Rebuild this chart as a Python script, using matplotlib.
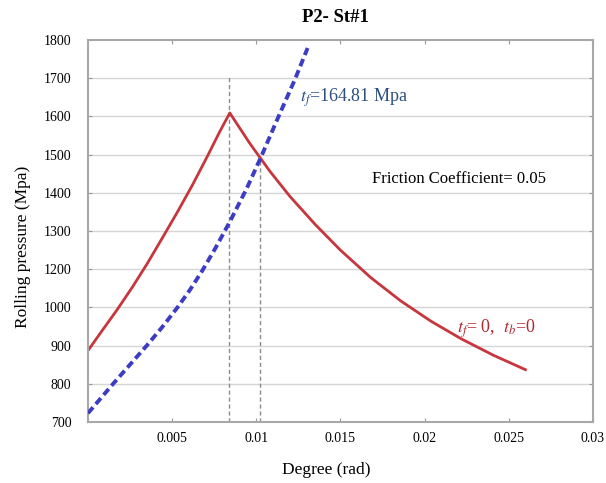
import numpy as np
from matplotlib import pyplot as plt

plt.rcParams["font.family"] = ["Liberation Serif", "DejaVu Serif"]
plt.rcParams["mathtext.fontset"] = "stix"

# tick labels on the y axis (1100 is missing in the original, spacing stays equal)
y_ticks = [700, 800, 900, 1000, 1200, 1300, 1400, 1500, 1600, 1700, 1800]
x_ticks = [0.005, 0.01, 0.015, 0.02, 0.025, 0.03]
x_tick_labels = ["0.005", "0.01", "0.015", "0.02", "0.025", "0.03"]

# red curve: tf = 0, tb = 0
red_x = [0.0, 0.000836, 0.001732, 0.002628, 0.003524, 0.00442, 0.005317,
         0.006213, 0.007109, 0.007826, 0.008423,
         0.009618, 0.010812, 0.012007, 0.0135, 0.014994, 0.016786,
         0.018578, 0.02037, 0.022162, 0.024073, 0.025986]
red_y = [887, 939, 994, 1105, 1215, 1282, 1350,
         1421, 1497, 1560, 1609,
         1529, 1456, 1390, 1317, 1250, 1157,
         1034, 964, 918, 875, 837]

# blue dashed curve: tf = 164.81 Mpa
blue_x = [0.0, 0.001493, 0.003489, 0.004403, 0.005317, 0.006075, 0.006774,
          0.007569, 0.008423, 0.009427, 0.010323, 0.011314, 0.012306, 0.013047]
blue_y = [723, 800, 900, 948, 1000, 1094, 1190,
          1255, 1324, 1411, 1498, 1599, 1698, 1779]

# vertical guide lines (x, top value)
guide_x = [0.0084, 0.0102]
guide_top = [1706, 1485]

# equal spacing between tick labels
pos = np.arange(len(y_ticks), dtype=float)
vals = np.array(y_ticks, dtype=float)


def fwd(v):
    return np.interp(v, np.r_[0, vals, 5000], np.r_[-7, pos, pos[-1] + 32])


def inv(p):
    return np.interp(p, np.r_[-7, pos, pos[-1] + 32], np.r_[0, vals, 5000])


fig = plt.figure(figsize=(6.06, 4.83), dpi=100)
ax = fig.add_axes([0.1452, 0.1263, 0.8333, 0.7909])
ax.set_yscale("function", functions=(fwd, inv))

for gy in y_ticks[1:-1]:
    ax.axhline(gy, color="#d6d6d6", lw=1.0, zorder=0)

for gx, gt in zip(guide_x, guide_top):
    ax.plot([gx, gx], [700, gt], color="#8c8c8c", lw=1.0, dashes=(3, 2), zorder=1)

ax.plot(red_x, red_y, color="#c6363c", lw=2.0, zorder=2)
ax.plot(blue_x, blue_y, color="#3c3cc4", lw=2.8, dashes=(2.0, 1.1), zorder=3)

ax.set_xlim(0, 0.030)
ax.set_ylim(700, 1800)
ax.set_xticks(x_ticks)
ax.set_xticklabels(x_tick_labels)
ax.set_yticks(y_ticks)
ax.set_yticklabels([str(v) for v in y_ticks])
ax.tick_params(axis="both", direction="in", length=3, color="#999999",
               labelsize=10, top=True, right=True)
ax.tick_params(axis="y", pad=12)
ax.tick_params(axis="x", pad=7)

for s in ax.spines.values():
    s.set_color("#a8a8a8")
    s.set_linewidth(1.5)

ax.set_title("P2- St#1", fontsize=13.5, fontweight="bold", pad=13, x=0.491)
ax.set_xlabel("Degree (rad)", fontsize=12.5)
ax.xaxis.set_label_coords(0.471, -0.105)
ax.set_ylabel("Rolling pressure (Mpa)", fontsize=12.5)
ax.yaxis.set_label_coords(-0.112, 0.458)

ax.text(0.01259, 1650, r"$t_f$=164.81 Mpa", color="#2d4f80", fontsize=13,
        va="center", ha="left")
ax.text(0.0169, 1437, "Friction Coefficient= 0.05", color="black", fontsize=12,
        va="center", ha="left")
ax.text(0.0219, 945, r"$t_f$= 0,  $t_b$=0", color="#b02a30", fontsize=13,
        va="center", ha="left")

fig.savefig("out.png", dpi=100)
